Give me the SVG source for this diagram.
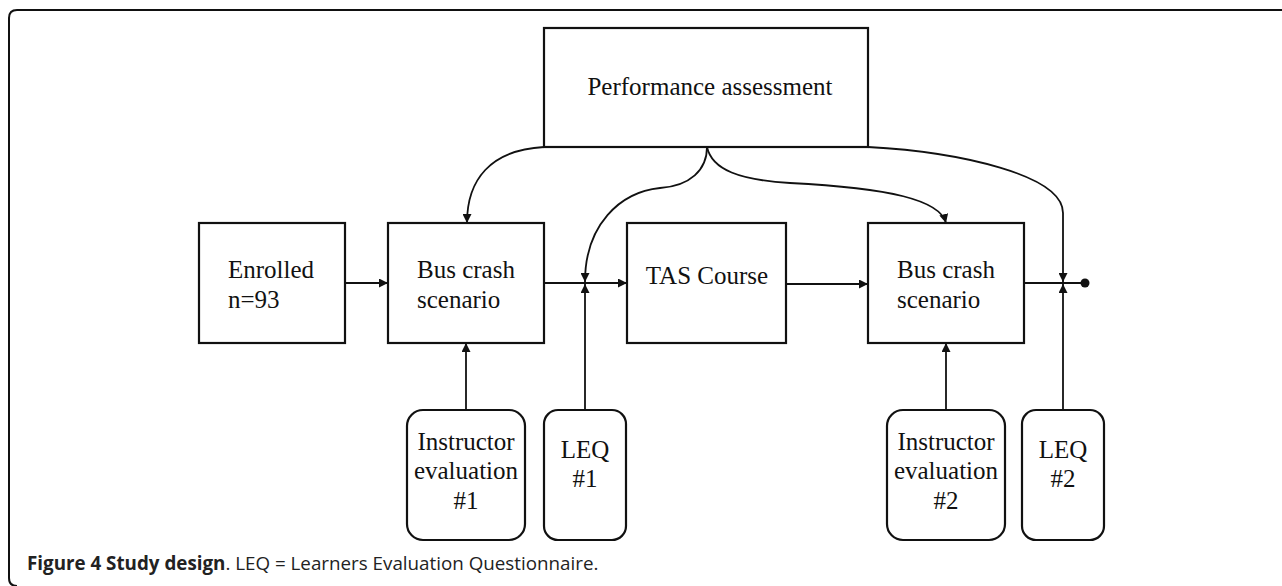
<svg xmlns="http://www.w3.org/2000/svg" width="1282" height="586" viewBox="0 0 1282 586">
<defs>
<style>
.box{fill:#fff;stroke:#111;stroke-width:2.2}
.t{font-family:"Liberation Serif","Times New Roman",serif;font-size:25px;fill:#111}
.c{stroke:#111;stroke-width:1.8;fill:none}
.cap{font-family:"Open Sans","DejaVu Sans",sans-serif;font-size:18.8px;fill:#222}
</style>
<marker id="ah" viewBox="0 0 10 10" refX="10" refY="5" markerWidth="9" markerHeight="9" markerUnits="userSpaceOnUse" orient="auto">
<path d="M0,0 L10,5 L0,10 z" fill="#111"/>
</marker>
</defs>
<rect width="1282" height="586" fill="#fff"/>
<path d="M1282,10 H17 Q9,10 9,18 V578 Q9,586 17,586" fill="none" stroke="#111" stroke-width="2"/>

<g id="perf"><rect class="box" x="544" y="28" width="324" height="119"/><text class="t" x="710" y="95" text-anchor="middle">Performance assessment</text></g>
<g id="enrolled"><rect class="box" x="199" y="223" width="146" height="120"/><text class="t" x="228" y="278">Enrolled</text><text class="t" x="228" y="308">n=93</text></g>
<g id="bus1"><rect class="box" x="388" y="223" width="156" height="120"/><text class="t" x="417" y="278">Bus crash</text><text class="t" x="417" y="308">scenario</text></g>
<g id="tas"><rect class="box" x="627" y="223" width="159" height="120"/><text class="t" x="707" y="284" text-anchor="middle">TAS Course</text></g>
<g id="bus2"><rect class="box" x="868" y="223" width="156" height="120"/><text class="t" x="897" y="278">Bus crash</text><text class="t" x="897" y="308">scenario</text></g>
<g id="ie1"><rect class="box" x="407" y="410" width="118" height="130" rx="16"/><text class="t" x="466" y="450" text-anchor="middle">Instructor</text><text class="t" x="466" y="479" text-anchor="middle">evaluation</text><text class="t" x="466" y="509" text-anchor="middle">#1</text></g>
<g id="leq1"><rect class="box" x="544" y="410" width="82" height="130" rx="14"/><text class="t" x="585" y="458" text-anchor="middle">LEQ</text><text class="t" x="585" y="487" text-anchor="middle">#1</text></g>
<g id="ie2"><rect class="box" x="887" y="410" width="118" height="130" rx="16"/><text class="t" x="946" y="450" text-anchor="middle">Instructor</text><text class="t" x="946" y="479" text-anchor="middle">evaluation</text><text class="t" x="946" y="509" text-anchor="middle">#2</text></g>
<g id="leq2"><rect class="box" x="1022" y="410" width="82" height="130" rx="14"/><text class="t" x="1063" y="458" text-anchor="middle">LEQ</text><text class="t" x="1063" y="487" text-anchor="middle">#2</text></g>

<g id="connectors">
<path class="c" d="M345,283 H388" marker-end="url(#ah)"/>
<path class="c" d="M544,283 H627" marker-end="url(#ah)"/>
<path class="c" d="M786,284 H868" marker-end="url(#ah)"/>
<path class="c" d="M1024,283 H1085"/>
<circle cx="1085" cy="283" r="4.5" fill="#111"/>
<path class="c" d="M544,147 C490,150 467,180 467,223" marker-end="url(#ah)"/>
<path class="c" d="M707,147 C707,170 690,186 660,188 C620,192 585,225 585,282" marker-end="url(#ah)"/>
<path class="c" d="M707,147 C712,170 740,180 790,183 C890,188 940,200 946,223" marker-end="url(#ah)"/>
<path class="c" d="M868,147 C960,152 1063,175 1063,213 V282" marker-end="url(#ah)"/>
<path class="c" d="M466,410 V343" marker-end="url(#ah)"/>
<path class="c" d="M585,410 V284" marker-end="url(#ah)"/>
<path class="c" d="M946,410 V343" marker-end="url(#ah)"/>
<path class="c" d="M1063,410 V284" marker-end="url(#ah)"/>
</g>

<text class="cap" x="27" y="570"><tspan font-weight="bold">Figure 4 Study design</tspan>. LEQ = Learners Evaluation Questionnaire.</text>
</svg>
